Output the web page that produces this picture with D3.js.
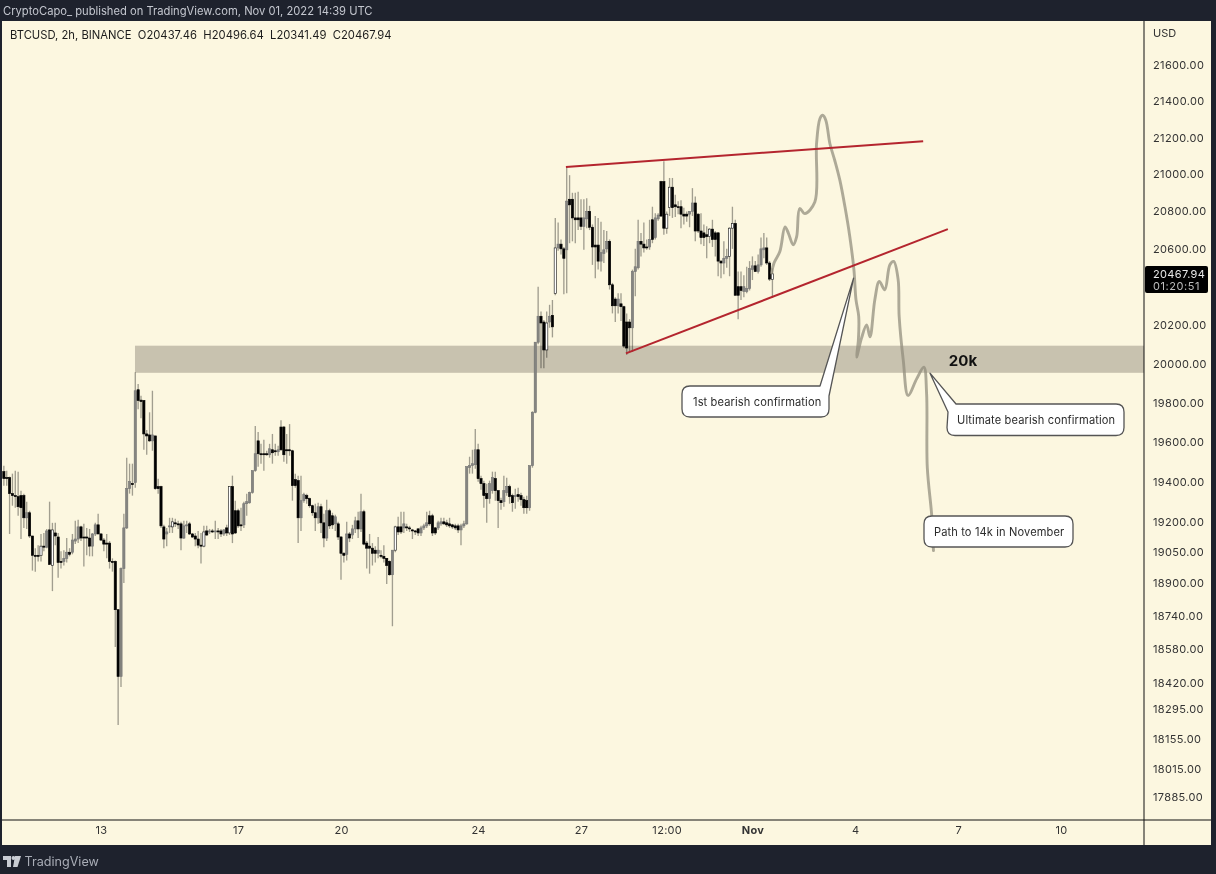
<!DOCTYPE html>
<html><head><meta charset="utf-8">
<script src="https://cdn.jsdelivr.net/npm/d3@7"></script>
<style>
html,body{margin:0;padding:0;background:#1e222d;overflow:hidden}
svg{display:block;filter:blur(0.45px)}
text{font-family:Inter,"Liberation Sans",sans-serif}
.domain{display:none}
</style></head><body><div id="c"></div>
<script>
// 2h bars; barStart is the bar offset of the first candle from 13 Oct 00:00 UTC
const symbolLine = "BTCUSD, 2h, BINANCE  O20437.46  H20496.64  L20341.49  C20467.94";
const publishLine = "CryptoCapo_ published on TradingView.com, Nov 01, 2022 14:39 UTC";
const barStart = -34;
const opens = [
19450,19420,19420,19340,19330,19325,19330,19330,19220,19245,
19130,19035,19035,19035,19080,19075,19160,18985,19145,19125,
19005,19005,19020,19050,19050,19105,19115,19175,19125,19125,
19120,19080,19140,19185,19140,19110,19095,19095,19005,19005,
18770,18450,18970,19170,19365,19390,19395,19865,19812,19810,
19640,19635,19605,19630,19375,19375,19175,19140,19175,19175,
19195,19190,19190,19120,19180,19190,19140,19130,19115,19085,
19080,19155,19150,19155,19150,19155,19155,19140,19170,19145,
19375,19255,19255,19185,19185,19290,19295,19345,19455,19605,
19540,19540,19540,19535,19560,19555,19550,19675,19675,19560,
19560,19555,19410,19405,19220,19305,19330,19315,19280,19245,
19220,19275,19195,19120,19255,19230,19190,19190,19125,19045,
19040,19140,19135,19165,19205,19165,19250,19095,19080,19070,
19060,19045,19035,19030,19020,19005,18940,19060,19175,19175,
19170,19175,19170,19160,19155,19165,19145,19170,19180,19230,
19230,19170,19170,19190,19200,19195,19190,19185,19180,19180,
19160,19180,19190,19470,19480,19485,19560,19415,19390,19340,
19315,19355,19415,19355,19305,19300,19345,19375,19330,19325,
19335,19330,19310,19305,19270,19480,19750,20110,20245,20215,
20070,20215,20250,20365,20605,20625,20600,20595,20865,20865,
20765,20765,20765,20720,20760,20800,20715,20620,20620,20535,
20575,20600,20640,20410,20335,20300,20310,20295,20215,20215,
20185,20480,20500,20640,20625,20610,20610,20755,20660,20760,
20960,20960,20710,20820,20930,20835,20825,20825,20785,20785,
20785,20800,20845,20785,20695,20685,20675,20665,20705,20685,
20685,20535,20525,20550,20560,20710,20735,20400,20400,20375,
20375,20390,20490,20510,20480,20515,20595,20605,20525,20437.46];
const highs = [
19480,19455,19425,19440,19455,19450,19355,19340,19300,19255,
19130,19070,19085,19140,19145,19165,19300,19195,19195,19145,
19055,19060,19120,19070,19140,19205,19210,19180,19190,19170,
19165,19145,19195,19240,19145,19120,19140,19105,19020,19010,
18770,18975,19240,19520,19490,19490,19955,19895,19835,19810,
19660,19750,19860,19630,19415,19380,19185,19170,19220,19220,
19215,19205,19200,19205,19205,19200,19145,19145,19155,19145,
19180,19180,19165,19165,19205,19170,19165,19165,19185,19375,
19430,19305,19265,19270,19300,19340,19350,19455,19680,19650,
19590,19610,19555,19590,19640,19590,19580,19710,19680,19640,
19690,19560,19440,19430,19430,19345,19340,19320,19285,19290,
19295,19290,19240,19310,19265,19245,19235,19200,19130,19050,
19200,19150,19185,19225,19250,19340,19260,19105,19140,19095,
19080,19125,19060,19085,19020,19010,19060,19180,19225,19250,
19250,19190,19180,19165,19160,19170,19180,19190,19250,19255,
19240,19175,19205,19220,19220,19210,19220,19190,19190,19190,
19190,19205,19475,19525,19560,19665,19590,19430,19405,19390,
19405,19450,19450,19355,19320,19430,19420,19385,19340,19365,
19370,19345,19325,19330,19480,19755,20110,20400,20270,20225,
20270,20305,20330,20765,20740,20650,20610,21040,20995,20900,
20900,20905,20865,20865,20870,20830,20730,20775,20765,20745,
20700,20695,20650,20420,20345,20365,20365,20300,20260,20230,
20490,20600,20755,20685,20740,20650,20755,20825,20790,20790,
20965,21070,20800,20980,20980,20890,20855,20860,20820,20800,
20800,20925,20880,20790,20790,20730,20720,20710,20755,20695,
20690,20540,20640,20600,20715,20825,20755,20480,20480,20460,
20505,20535,20560,20535,20570,20660,20685,20660,20535,20496.64];
const lows = [
19380,19380,19140,19280,19270,19230,19115,19170,19165,19120,
18960,18955,19005,19005,19055,19070,18990,18860,19085,18925,
18970,18985,19000,19030,19040,19090,19095,19105,18980,19035,
19030,19030,19130,19140,19105,19055,19020,18970,18955,18590,
18220,18400,18900,19165,19340,19330,19370,19765,19720,19560,
19535,19600,19555,19360,19340,19170,19070,19080,19145,19145,
19175,19165,19060,19115,19145,19135,19120,19080,19070,18995,
19075,19130,19140,19145,19115,19115,19125,19130,19130,19135,
19095,19140,19170,19155,19170,19230,19290,19340,19450,19475,
19490,19455,19530,19520,19490,19530,19530,19555,19500,19490,
19530,19305,19370,19095,19155,19295,19290,19270,19230,19155,
19190,19145,19075,19105,19165,19165,19155,19110,18915,19000,
19010,19100,19115,19145,19120,19150,19085,18970,18945,18985,
19000,19020,19020,19000,18895,18935,18690,19050,19135,19140,
19145,19155,19150,19115,19135,19130,19130,19160,19170,19180,
19130,19135,19160,19180,19185,19175,19170,19165,19160,19145,
19085,19170,19185,19440,19440,19465,19400,19360,19270,19195,
19290,19340,19305,19170,19260,19275,19330,19290,19250,19265,
19300,19280,19240,19240,19255,19470,19745,20100,19975,19975,
20030,20185,20135,20355,20590,20570,20360,20365,20630,20640,
20630,20700,20700,20595,20710,20700,20515,20445,20490,20480,
20525,20580,20385,20260,20215,20260,20220,20080,20045,20060,
20060,20350,20490,20560,20580,20595,20595,20630,20650,20750,
20770,20675,20680,20775,20765,20770,20785,20710,20730,20745,
20715,20775,20640,20685,20625,20615,20550,20630,20610,20560,
20455,20445,20465,20500,20455,20600,20355,20230,20330,20345,
20365,20380,20435,20480,20470,20505,20550,20515,20430,20341.49];
const closes = [
19415,19415,19340,19330,19325,19275,19270,19220,19245,19130,
19035,19030,19030,19080,19075,19155,18990,19160,19130,19000,
19000,19020,19050,19040,19110,19115,19175,19120,19120,19120,
19080,19140,19185,19140,19110,19090,19090,19005,19000,18770,
18450,18970,19170,19365,19400,19385,19860,19810,19805,19640,
19630,19605,19635,19365,19365,19180,19115,19150,19180,19200,
19190,19185,19120,19180,19185,19140,19125,19115,19085,19080,
19150,19135,19155,19150,19155,19150,19140,19160,19145,19375,
19140,19145,19180,19180,19290,19300,19345,19455,19540,19540,
19535,19535,19535,19565,19545,19550,19560,19560,19535,19555,
19555,19380,19380,19220,19305,19335,19315,19280,19245,19220,
19275,19195,19120,19255,19180,19185,19225,19125,19045,19035,
19140,19120,19165,19205,19165,19250,19090,19070,19070,19045,
19045,19060,19030,19020,18985,18940,19060,19175,19150,19150,
19190,19170,19165,19155,19150,19145,19170,19180,19195,19190,
19145,19145,19195,19200,19190,19185,19180,19175,19170,19160,
19180,19190,19475,19480,19490,19560,19415,19390,19330,19315,
19390,19420,19355,19305,19295,19355,19375,19325,19295,19330,
19325,19310,19270,19270,19480,19750,20110,20245,20210,20070,
20210,20245,20190,20605,20625,20600,20550,20855,20835,20765,
20755,20755,20720,20765,20800,20715,20610,20610,20535,20580,
20595,20640,20410,20300,20300,20335,20295,20090,20080,20185,
20480,20505,20640,20625,20605,20605,20650,20650,20765,20780,
20775,20710,20785,20930,20820,20825,20820,20785,20775,20775,
20800,20845,20695,20695,20660,20660,20665,20705,20650,20650,
20535,20525,20550,20560,20710,20735,20355,20355,20380,20400,
20390,20495,20510,20480,20515,20600,20605,20525,20440,20467.94];
// up candles whose white fill still shows through in the picture
const hollowBars = [-21,-17,25,36,45,103,156,159,198,199,213,220,221,235];

const priceTicks = [21600,21400,21200,21000,20800,20600,20200,20000,19800,19600,19400,19200,19050,18900,18740,18580,18420,18295,18155,18015,17885];
const timeTicks = ["2022-10-13T00:00Z","2022-10-17T00:00Z","2022-10-20T00:00Z","2022-10-24T00:00Z","2022-10-27T00:00Z","2022-10-29T12:00Z","2022-11-01T00:00Z","2022-11-04T00:00Z","2022-11-07T00:00Z","2022-11-10T00:00Z"];
const timeLabels = ["13","17","20","24","27","12:00","Nov","4","7","10"];

// hand-drawn projection, in days after 13 Oct and price
const pathDays = [19.56,19.63,19.80,19.95,20.05,20.19,20.29,20.38,20.53,20.82,20.87,20.97,21.05,21.14,21.26,21.40,21.55,21.70,21.84,21.96,22.02,22.10,22.09,22.04,22.18,22.33,22.43,22.57,22.70,22.86,23.01,23.12,23.25,23.28,23.40,23.54,23.79,24.00,24.08,24.10,24.23,24.28];
const pathPrices = [20472,20525,20586,20717,20683,20621,20665,20815,20788,20850,21166,21304,21322,21295,21166,21076,20968,20823,20665,20490,20332,20244,20121,20033,20130,20200,20138,20332,20428,20384,20516,20533,20437,20244,20016,19836,19921,19981,19845,19472,19230,19058];
const upperTrendDays = [13.56,23.98];
const upperTrendPrices = [21040,21180];
const lowerTrendDays = [15.31,24.70];
const lowerTrendPrices = [20052,20705];
const zoneDays = [1.0,30];
const zonePrices = [20092,19952];

const W=1216,H=874;
const L=2,R=1144,AR=1211,T=21,XB=820,B=845;
const msDay=864e5, t0=Date.UTC(2022,9,13);
const x=d3.scaleUtc().domain([new Date(t0),new Date("2022-11-10T00:00Z")]).range([101,1061]);
const y=d3.scaleLog().domain([17885,21600]).range([797,65]);
const xd=d=>x(new Date(t0+d*msDay));
const svg=d3.select("#c").append("svg").attr("width",W).attr("height",H).attr("viewBox",`0 0 ${W} ${H}`);
const paper="#fcf7e0", dark="#1e222d";
svg.append("rect").attr("width",W).attr("height",H).attr("fill",dark);
svg.append("rect").attr("x",L).attr("y",T).attr("width",AR-L).attr("height",B-T).attr("fill",paper);

svg.append("text").attr("x",3).attr("y",15).attr("font-size",11.2).attr("fill","#c4c7cf").text(publishLine);
svg.append("text").attr("x",10).attr("y",39).attr("font-size",11.25).attr("fill","#1c1c1c").style("white-space","pre").text(symbolLine);

svg.append("defs").append("clipPath").attr("id","plot").append("rect").attr("x",L).attr("y",T).attr("width",R-L).attr("height",XB-T);
const plot=svg.append("g").attr("clip-path","url(#plot)");

// 20k zone
plot.append("rect").attr("x",xd(zoneDays[0])-.3).attr("width",R-xd(zoneDays[0])+.3)
 .attr("y",y(zonePrices[0])).attr("height",y(zonePrices[1])-y(zonePrices[0])).attr("fill","#c8c2af");
svg.append("text").attr("x",963).attr("y",366).attr("text-anchor","middle").attr("font-size",15).attr("font-weight",700).attr("fill","#111").text("20k");

// candles
const bars=d3.range(opens.length).map(i=>({n:i+barStart,t:new Date(t0+(i+barStart)*2*36e5),o:opens[i],h:highs[i],l:lows[i],c:closes[i]}));
plot.append("g").selectAll("line").data(bars).join("line")
 .attr("x1",d=>x(d.t)).attr("x2",d=>x(d.t)).attr("y1",d=>y(d.h)).attr("y2",d=>y(d.l))
 .attr("stroke","#000").attr("stroke-opacity",.36).attr("stroke-width",1.35);
const bw=2.2;
const isUp=d=>d.c>=d.o, hollow=d=>hollowBars.includes(d.n);
plot.append("g").selectAll("rect").data(bars).join("rect")
 .attr("x",d=>x(d.t)-bw/2).attr("width",bw)
 .attr("y",d=>y(Math.max(d.o,d.c))).attr("height",d=>Math.max(.9,Math.abs(y(d.o)-y(d.c))))
 .attr("fill",d=>!isUp(d)?"#000":hollow(d)?"#fff":"#858580")
 .attr("stroke",d=>!isUp(d)?"#000":hollow(d)?"#222":"#777")
 .attr("stroke-width",.65);

// trend lines and projection
const ln=d3.line().x(d=>xd(d[0])).y(d=>y(d[1]));
plot.append("path").attr("d",d3.line().x(d=>xd(d[0])).y(d=>y(d[1])).curve(d3.curveCatmullRom.alpha(.5))(d3.zip(pathDays,pathPrices)))
 .attr("fill","none").attr("stroke","#8f8b7a").attr("stroke-opacity",.72).attr("stroke-width",2.9).attr("stroke-linejoin","round").attr("stroke-linecap","round");
[[upperTrendDays,upperTrendPrices],[lowerTrendDays,lowerTrendPrices]].forEach(([a,b])=>{
 plot.append("path").attr("d",ln(d3.zip(a,b))).attr("fill","none").attr("stroke","#b4252e").attr("stroke-width",2);
});

// callouts
function callout(x0,y0,x1,y1,txt,tx,tip,base){
 const r=8;
 let d=`M${x0+r},${y0}`;
 if(tip&&base[0]>x0+r&&base[1]===y0&&base[2]===x1){ // tail leaving the top-right corner
  d+=`L${base[0]},${y0}L${tip[0]},${tip[1]}L${x1},${base[3]}L${x1},${y1-r}`;
 } else if(tip){ // tail leaving the top-left corner
  d=`M${base[0]},${base[1]}L${tip[0]},${tip[1]}L${base[2]},${base[3]}L${x1-r},${y0}Q${x1},${y0} ${x1},${y0+r}L${x1},${y1-r}`;
  d+=`Q${x1},${y1} ${x1-r},${y1}L${x0+r},${y1}Q${x0},${y1} ${x0},${y1-r}Z`;
 } else {
  d+=`L${x1-r},${y0}Q${x1},${y0} ${x1},${y0+r}L${x1},${y1-r}`;
 }
 if(!(tip&&base[2]!==x1)){
  d+=`Q${x1},${y1} ${x1-r},${y1}L${x0+r},${y1}Q${x0},${y1} ${x0},${y1-r}L${x0},${y0+r}Q${x0},${y0} ${x0+r},${y0}Z`;
 }
 svg.append("path").attr("d",d).attr("fill","#fff").attr("stroke","#555").attr("stroke-width",1.3).attr("stroke-linejoin","round");
 svg.append("text").attr("x",tx).attr("y",(y0+y1)/2+4).attr("font-size",11.1).attr("fill","#2b2b2b").attr("letter-spacing",".12").text(txt);
}
callout(682,386,829,417,"1st bearish confirmation",693,[xd(21.95),y(20445)],[820,386,829,396]);
callout(947,404,1124,435.5,"Ultimate bearish confirmation",957,[xd(24.18),y(19950)],[948,412,956,404]);
callout(924,516,1073,547,"Path to 14k in November",934,null,null);

// axes
const yAxis=d3.axisRight(y).tickValues(priceTicks).tickSize(0).tickPadding(0).tickFormat(d3.format(".2f"));
const ya=svg.append("g").attr("transform","translate(1153,0)").call(yAxis);
ya.selectAll("text").attr("font-size",11).attr("fill","#333").attr("font-family","Inter,sans-serif").attr("letter-spacing",".35");
svg.append("text").attr("x",1153).attr("y",37).attr("font-size",11).attr("fill","#333").text("USD");

const xAxis=d3.axisBottom(x).tickValues(timeTicks.map(s=>new Date(s))).tickSize(0).tickPadding(0).tickFormat((d,i)=>timeLabels[i]);
const xa=svg.append("g").attr("transform","translate(0,826)").call(xAxis);
xa.selectAll("text").attr("font-size",11).attr("fill","#333").attr("font-family","Inter,sans-serif").attr("letter-spacing",".3")
 .attr("font-weight",(d,i)=>timeLabels[i]==="Nov"?700:400);

svg.append("line").attr("x1",L).attr("x2",AR).attr("y1",XB).attr("y2",XB).attr("stroke","#111").attr("stroke-width",1);
svg.append("line").attr("x1",R).attr("x2",R).attr("y1",T).attr("y2",B).attr("stroke","#111").attr("stroke-width",1);

// last price badge
svg.append("rect").attr("x",1145).attr("y",266).attr("width",63).attr("height",27).attr("rx",2).attr("fill","#000");
svg.append("text").attr("x",1153).attr("y",278).attr("font-size",11).attr("fill","#e8e8e8").attr("letter-spacing",".35").text("20467.94");
svg.append("text").attr("x",1153).attr("y",290).attr("font-size",11).attr("fill","#bdbdbd").attr("letter-spacing",".55").text("01:20:51");

// footer
const logo=svg.append("g").attr("fill","#c9ccd3");
logo.append("path").attr("d","M3,856H11V867H7V860H3Z");
logo.append("circle").attr("cx",13.4).attr("cy",858).attr("r",1.9);
logo.append("path").attr("d","M15,856H21L17.5,867H13Z");
svg.append("text").attr("x",24.5).attr("y",866).attr("font-size",12.6).attr("fill","#a9adb6").text("TradingView");
</script></body></html>
